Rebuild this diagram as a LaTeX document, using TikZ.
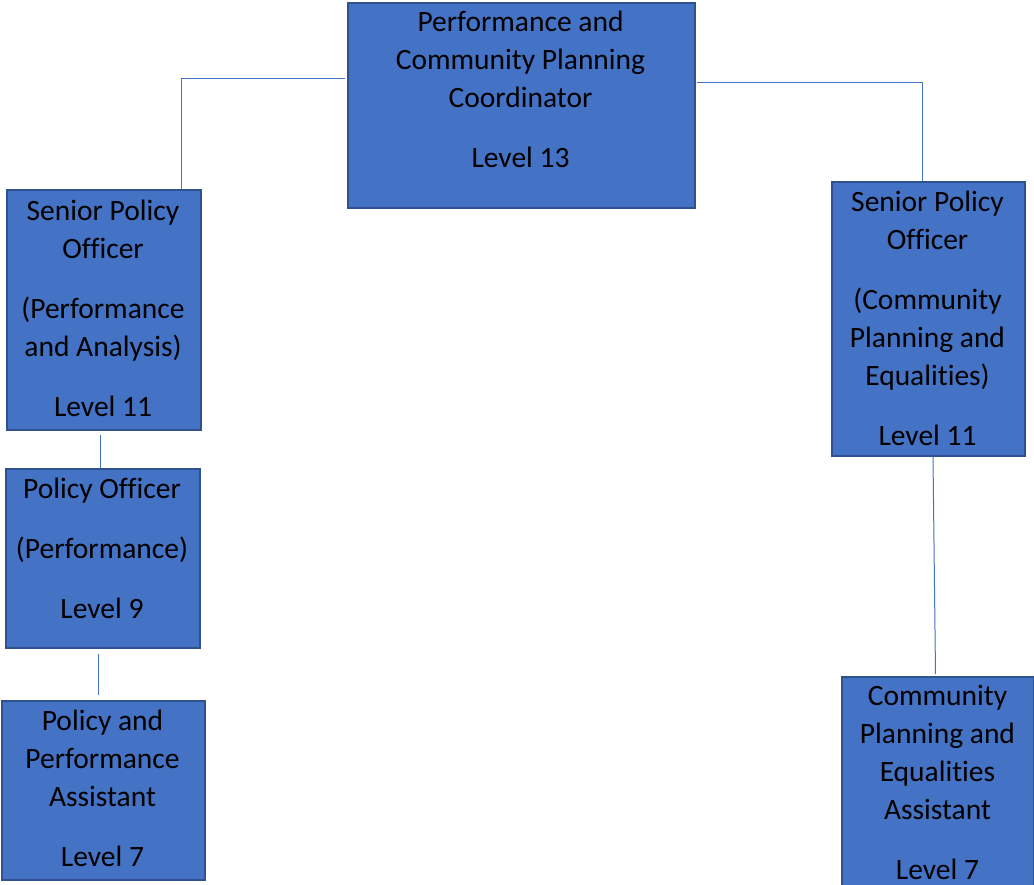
\documentclass[tikz,border=0pt]{standalone}
\usepackage{fontspec}
\setmainfont{Carlito}[Ligatures=NoCommon]
\definecolor{boxfill}{HTML}{4472C4}
\definecolor{boxedge}{HTML}{2F528F}
\definecolor{linkc}{HTML}{4472C4}
\begin{document}
\begin{tikzpicture}[x=1pt,y=-1pt,
 orgbox/.style={draw=boxedge, line width=2pt, fill=boxfill, inner sep=0pt, anchor=north west},
 orgtext/.style={align=center, anchor=north, inner sep=0pt, font=\fontsize{29.5}{38}\selectfont, text=black},
 link/.style={draw=linkc, line width=1pt}]
\useasboundingbox (0,0) rectangle (1034,885);
\node[orgbox, minimum width=347pt, minimum height=205pt] (top) at (347,2) {};
\node[orgbox, minimum width=194pt, minimum height=240pt] (spo1) at (6,189) {};
\node[orgbox, minimum width=194pt, minimum height=179pt] (po) at (5,468) {};
\node[orgbox, minimum width=203pt, minimum height=179pt] (ppa) at (1,700) {};
\node[orgbox, minimum width=193pt, minimum height=274pt] (spo2) at (831,181) {};
\node[orgbox, minimum width=192pt, minimum height=214pt] (cpa) at (841,676) {};

\node[orgtext] (ttop) at (520.5,11) {Performance and\\Community Planning\\Coordinator\\[22pt]Level 13};
\node[orgtext] (tspo1) at (103,200) {Senior Policy\\Officer\\[22pt](Performance\\and Analysis)\\[22pt]Level 11};
\node[orgtext] (tpo) at (102,478) {Policy Officer\\[22pt](Performance)\\[22pt]Level 9};
\node[orgtext] (tppa) at (102.5,710) {Policy and\\Performance\\Assistant\\[22pt]Level 7};
\node[orgtext] (tspo2) at (927.5,191) {Senior Policy\\Officer\\[22pt](Community\\Planning and\\Equalities)\\[22pt]Level 11};
\node[orgtext] (tcpa) at (937.5,685) {Community\\Planning and\\Equalities\\Assistant\\[22pt]Level 7};

\draw[link] ([xshift=-2pt,yshift=26.5pt]top.west) -| ([xshift=77pt]spo1.north);
\draw[link] ([xshift=1pt,yshift=22.5pt]top.east) -| ([xshift=-6.5pt]spo2.north);
\draw[link] ([xshift=-4pt,yshift=-4pt]spo1.south) -- ([xshift=-3pt]po.north);
\draw[link] ([xshift=-5pt,yshift=-5pt]po.south) -- ([xshift=-5.5pt,yshift=5pt]ppa.north);
\draw[link] ([xshift=4.5pt]spo2.south) -- ([xshift=-2.5pt,yshift=2pt]cpa.north);
\end{tikzpicture}
\end{document}
